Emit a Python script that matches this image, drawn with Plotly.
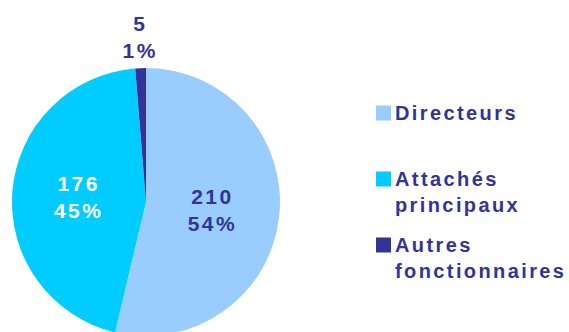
import math
import plotly.graph_objects as go

# Effectifs par catégorie
categories = ["Directeurs", "Attachés principaux", "Autres fonctionnaires"]
legend_labels = ["Directeurs", "Attachés<br>principaux", "Autres<br>fonctionnaires"]
values = [210, 176, 5]

colors = ["#99CCFF", "#00CCFF", "#333399"]
text_colors = ["#333399", "#FFFFFF", "#333399"]

W, H = 569, 340
FONT = "Liberation Sans"
DARK = "#333399"


def px_x(x):
    return x / W


def px_y(y):
    return (H - y) / H


# pie geometry (pixels from top-left)
cx, cy, r = 146, 202, 134
total = sum(values)

# the thin last slice gets its label above the pie, centred on its bisector
small = len(values) - 1
start = sum(values[:small]) / total * 360
mid = math.radians(start + values[small] / total * 180)
texts = [f"{v}<br>{round(100 * v / total)}%" for v in values]
slice_text = texts[:small] + [""]

fig = go.Figure(
    go.Pie(
        labels=categories,
        values=values,
        sort=False,
        direction="clockwise",
        rotation=0,
        marker=dict(colors=colors, line=dict(width=0)),
        text=slice_text,
        textinfo="text",
        textposition="inside",
        insidetextorientation="horizontal",
        textfont=dict(family=FONT, size=21, color=text_colors, weight="bold"),
        domain=dict(x=[px_x(cx - r), px_x(cx + r)], y=[px_y(cy + r), px_y(cy - r)]),
        showlegend=False,
        hoverinfo="skip",
    )
)

annotations = [dict(
    text=texts[small], xref="paper", yref="paper",
    x=px_x(cx + r * math.sin(mid)), y=px_y(cy - r * math.cos(mid) - 4),
    xanchor="center", yanchor="bottom", showarrow=False,
    font=dict(family=FONT, size=21, color=DARK, weight="bold"),
)]

# legend drawn at the right: coloured squares and labels
shapes = []
for lab, col, first, n_lines in zip(legend_labels, colors, [113, 179, 245], [1, 2, 2]):
    shapes.append(dict(
        type="rect", xref="paper", yref="paper",
        x0=px_x(376), x1=px_x(391), y0=px_y(first + 7.5), y1=px_y(first - 7.5),
        fillcolor=col, line=dict(width=0),
    ))
    annotations.append(dict(
        text=lab, xref="paper", yref="paper",
        x=px_x(393), y=px_y(first + 13 * (n_lines - 1)),
        xanchor="left", yanchor="middle", align="left", showarrow=False,
        font=dict(family=FONT, size=20, color=DARK, weight="bold"),
    ))

fig.update_layout(
    width=W, height=H,
    margin=dict(l=0, r=0, t=0, b=0),
    paper_bgcolor="white", plot_bgcolor="white",
    shapes=shapes, annotations=annotations,
)

# wide letter spacing on every label; the page is cut at the window height
fig.write_html(
    "out.html",
    post_script=(
        "document.documentElement.style.overflow='hidden';"
        "document.body.style.overflow='hidden';"
        "document.querySelectorAll('.main-svg text').forEach(function(t){"
        "t.style.letterSpacing='2.4px';});"
    ),
)
